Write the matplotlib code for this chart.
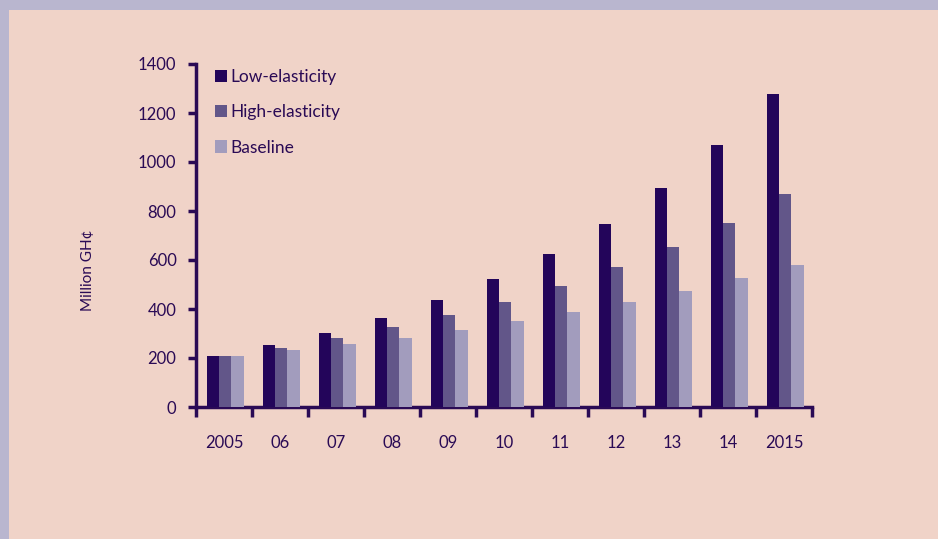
import matplotlib
matplotlib.use("Agg")
import matplotlib.pyplot as plt
from matplotlib.patches import Rectangle
import numpy as np

years = ["2005", "06", "07", "08", "09", "10", "11", "12", "13", "14", "2015"]
low_elasticity = [209, 253, 301, 363, 437, 522, 624, 746, 893, 1068, 1278]
high_elasticity = [209, 240, 282, 325, 375, 427, 495, 570, 653, 752, 868]
baseline = [209, 233, 258, 282, 313, 350, 386, 429, 472, 527, 581]
series_names = ["Low-elasticity", "High-elasticity", "Baseline"]
colors = ["#23055A", "#625689", "#A29CBD"]
text_color = "#2A0A55"
border_color = "#B9B6CF"

plt.rcParams['font.family'] = ['Lato', 'DejaVu Sans']

fig = plt.figure(figsize=(9.38, 5.39), dpi=100)
fig.patch.set_facecolor("#F0D3C8")
# purple border along the top and left edges
fig.patches.append(Rectangle((0, 1 - 10/539), 1, 10/539, transform=fig.transFigure,
                             facecolor=border_color, edgecolor="none", zorder=-5))
fig.patches.append(Rectangle((0, 0), 9/938, 1, transform=fig.transFigure,
                             facecolor=border_color, edgecolor="none", zorder=-5))

ax = fig.add_axes([196/938, 1 - 407/539, (812-196)/938, (407-64)/539])
ax.set_facecolor("none")

x = np.arange(len(years))
w = 0.22
for i, (vals, name) in enumerate(zip([low_elasticity, high_elasticity, baseline], series_names)):
    ax.bar(x + (i - 1) * w + 0.02, vals, width=w, color=colors[i], label=name, zorder=3)

ax.set_xlim(-0.5, len(years) - 0.5)
ax.set_ylim(0, 1400)
ax.set_yticks(range(0, 1401, 200))
ax.set_xticks(np.arange(-0.5, len(years), 1.0))
ax.set_xticklabels([])
ax.set_xticks(x, minor=True)
ax.set_xticklabels(years, minor=True)
ax.tick_params(axis='x', which='minor', length=0, pad=20, labelsize=12, colors=text_color)
ax.tick_params(axis='x', which='major', length=7, width=2.5, direction='out', color=text_color)
ax.tick_params(axis='y', length=6, width=2.5, direction='out', color=text_color,
               labelsize=12, labelcolor=text_color, pad=8)
for lab in ax.get_xticklabels(minor=True):
    lab.set_color(text_color)

for s in ["top", "right"]:
    ax.spines[s].set_visible(False)
for s in ["left", "bottom"]:
    ax.spines[s].set_linewidth(2.5)
    ax.spines[s].set_color(text_color)

fig.text(88/938, 1 - 270/539, "Million GH¢", rotation=90, ha='center', va='center',
         fontsize=11, color=text_color)

leg = ax.legend(loc='upper left', bbox_to_anchor=(0.005, 1.03), frameon=False,
                fontsize=12.5, handlelength=0.7, handleheight=0.7, handletextpad=0.2,
                labelspacing=1.1, labelcolor=text_color)

fig.savefig("out.png", dpi=100, facecolor=fig.get_facecolor())
